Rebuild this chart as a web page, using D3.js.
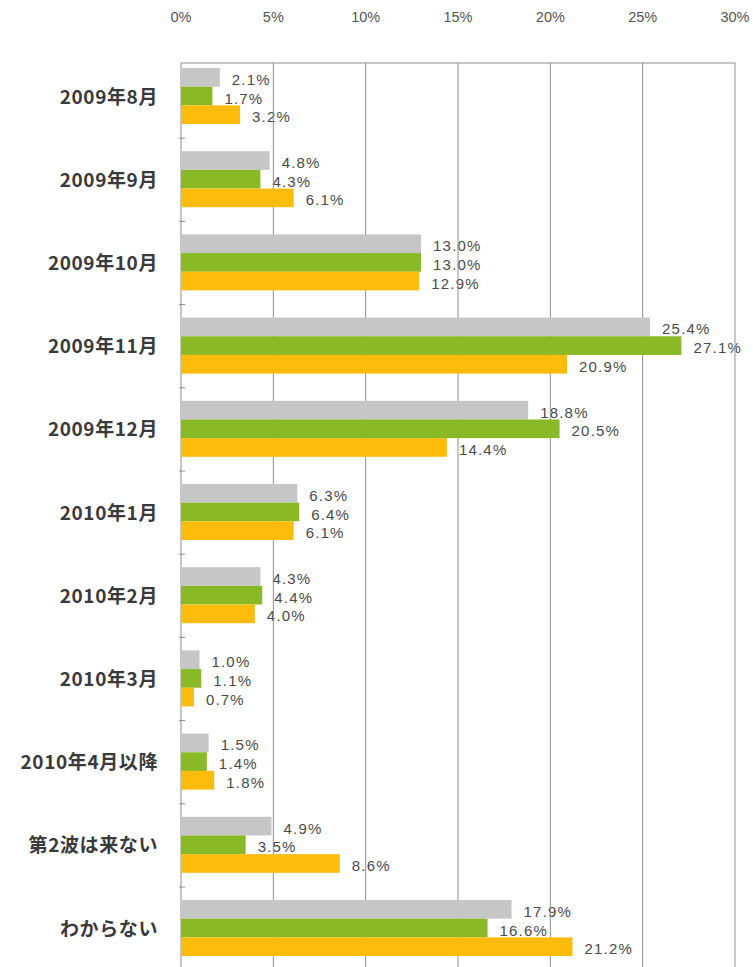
<!DOCTYPE html>
<html><head><meta charset="utf-8">
<script src="https://cdn.jsdelivr.net/npm/d3@7/dist/d3.min.js"></script>
<style>body{margin:0;background:#fff;}svg{display:block;}</style>
</head><body>
<svg id="chart" width="753" height="967"></svg>
<script>
const categories = ["2009年8月","2009年9月","2009年10月","2009年11月","2009年12月","2010年1月","2010年2月","2010年3月","2010年4月以降","第2波は来ない","わからない"];
const seriesNames = ["s1","s2","s3"];
const grayValues   = [2.1, 4.8, 13.0, 25.4, 18.8, 6.3, 4.3, 1.0, 1.5, 4.9, 17.9];
const greenValues  = [1.7, 4.3, 13.0, 27.1, 20.5, 6.4, 4.4, 1.1, 1.4, 3.5, 16.6];
const orangeValues = [3.2, 6.1, 12.9, 20.9, 14.4, 6.1, 4.0, 0.7, 1.8, 8.6, 21.2];
const tickValues = [0, 5, 10, 15, 20, 25, 30];
const tickLabels = ["0%","5%","10%","15%","20%","25%","30%"];
const colors = ["#c6c6c6", "#8ab928", "#fdbb0c"];

const seriesValues = [grayValues, greenValues, orangeValues];
const svg = d3.select("#chart");
const x = d3.scaleLinear().domain([0, 30]).range([181, 735]);
const y = d3.scaleBand().domain(categories).range([55, 55 + 11 * 83.2]).padding(0);
const yInner = d3.scaleBand().domain(seriesNames).range([13, 69]).padding(0);

const frameTop = 63, frameBottom = 967;

// value labels (under gridlines)
const gLabels = svg.append("g");
categories.forEach((c, i) => {
  seriesValues.forEach((vals, s) => {
    const yc = y(c) + yInner(seriesNames[s]) + yInner.bandwidth() / 2;
    gLabels.append("text")
      .attr("x", x(vals[i]) + 12)
      .attr("y", yc + 7.5)
      .attr("font-family", "Liberation Sans, Arial, sans-serif")
      .attr("font-size", 15)
      .attr("letter-spacing", 1.2)
      .attr("fill", "#4a4a4a")
      .text(vals[i].toFixed(1) + "%");
  });
});

// gridlines
const gGrid = svg.append("g");
gGrid.selectAll("line.grid").data(tickValues).enter().append("line")
  .attr("x1", d => x(d)).attr("x2", d => x(d))
  .attr("y1", frameTop).attr("y2", frameBottom)
  .attr("stroke", "#8e8e8e").attr("stroke-width", 1);
gGrid.append("line")
  .attr("x1", x(0)).attr("x2", x(30)).attr("y1", frameTop).attr("y2", frameTop)
  .attr("stroke", "#8e8e8e").attr("stroke-width", 1);
// group separator ticks on the left axis
gGrid.selectAll("line.sep").data(categories.slice(1)).enter().append("line")
  .attr("x1", x(0) - 2).attr("x2", x(0) + 4)
  .attr("y1", d => y(d)).attr("y2", d => y(d))
  .attr("stroke", "#8e8e8e").attr("stroke-width", 1);

// bars
const gBars = svg.append("g");
categories.forEach((c, i) => {
  seriesValues.forEach((vals, s) => {
    gBars.append("rect")
      .attr("x", x(0))
      .attr("y", y(c) + yInner(seriesNames[s]))
      .attr("width", x(vals[i]) - x(0))
      .attr("height", yInner.bandwidth())
      .attr("fill", colors[s]);
  });
});

// top axis labels
svg.append("g").selectAll("text").data(tickValues).enter().append("text")
  .attr("x", d => x(d)).attr("y", 22)
  .attr("text-anchor", "middle")
  .attr("font-family", "Liberation Sans, Arial, sans-serif")
  .attr("font-size", 14.5)
  .attr("fill", "#555")
  .text((d, i) => tickLabels[i]);

// category labels
svg.append("g").selectAll("text").data(categories).enter().append("text")
  .attr("x", 158)
  .attr("y", d => y(d) + 41 + 7.5)
  .attr("text-anchor", "end")
  .attr("font-family", "Noto Sans CJK JP, sans-serif")
  .attr("font-weight", "bold")
  .attr("font-size", 19)
  .attr("letter-spacing", 0.6)
  .attr("fill", "#3a3a3a")
  .text(d => d);
</script>
</body></html>
